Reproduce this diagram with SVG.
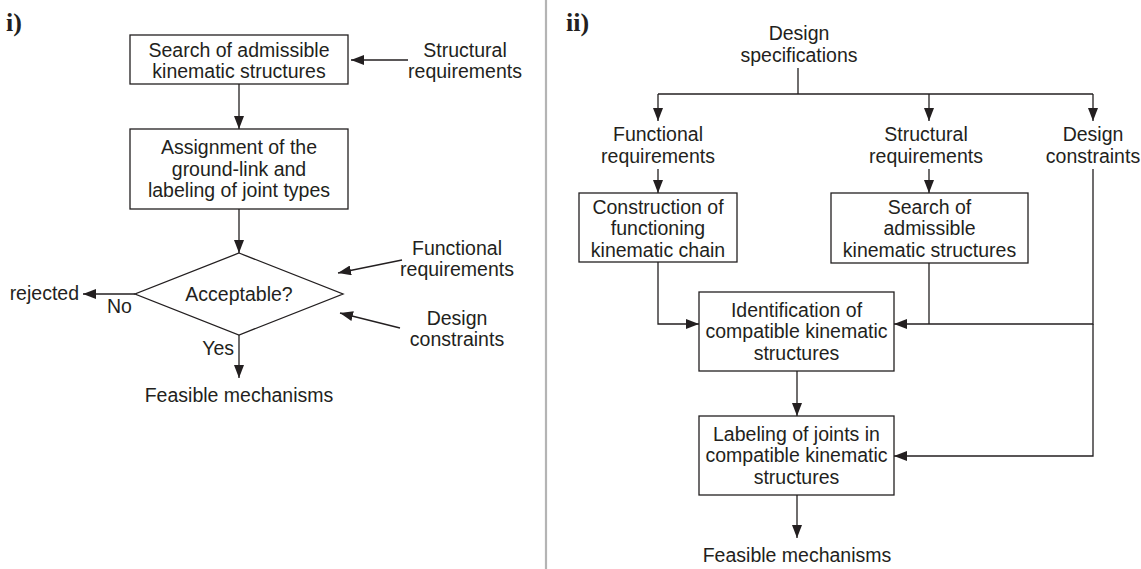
<svg xmlns="http://www.w3.org/2000/svg" width="1141" height="569" viewBox="0 0 1141 569">
  <style>
    text { font-family: "Liberation Sans", Arial, sans-serif; font-size: 19.5px; fill: #231f20; }
    .c { text-anchor: middle; }
    .e { text-anchor: end; }
    .tag { font-family: "Liberation Serif", "Times New Roman", serif; font-weight: bold; font-size: 26px; }
    .box { fill: #ffffff; stroke: #231f20; stroke-width: 1.3; }
    .ln { fill: none; stroke: #231f20; stroke-width: 1.3; }
    .arr { marker-end: url(#head); }
  </style>
  <defs>
    <marker id="head" viewBox="0 0 13 10" refX="13" refY="5" markerWidth="13" markerHeight="10" markerUnits="userSpaceOnUse" orient="auto">
      <path d="M0,0 L13,5 L0,10 z" fill="#231f20"/>
    </marker>
  </defs>
  <rect width="1141" height="569" fill="#ffffff"/>

  <!-- panel separator -->
  <line x1="546" y1="0" x2="546" y2="569" stroke="#b4b4b4" stroke-width="2.2"/>

  <text class="tag" x="6" y="31">i)</text>
  <text class="tag" x="566" y="31">ii)</text>

  <!-- ===== Panel i ===== -->
  <g id="i-search">
    <rect class="box" x="130" y="35" width="218" height="49"/>
    <text class="c" x="239" y="57">Search of admissible</text>
    <text class="c" x="239" y="78">kinematic structures</text>
  </g>
  <g id="i-assign">
    <rect class="box" x="130" y="129" width="218" height="80"/>
    <text class="c" x="239" y="154">Assignment of the</text>
    <text class="c" x="239" y="176">ground-link and</text>
    <text class="c" x="239" y="197">labeling of joint types</text>
  </g>
  <g id="i-decision">
    <polygon class="box" points="239,253 343,294 239,335 135,294"/>
    <text class="c" x="239" y="301">Acceptable?</text>
  </g>
  <g id="i-structural">
    <text class="c" x="465" y="57">Structural</text>
    <text class="c" x="465" y="78">requirements</text>
  </g>
  <g id="i-functional">
    <text class="c" x="457" y="255">Functional</text>
    <text class="c" x="457" y="276">requirements</text>
  </g>
  <g id="i-constraints">
    <text class="c" x="457" y="325">Design</text>
    <text class="c" x="457" y="346">constraints</text>
  </g>
  <g id="i-rejected">
    <text class="e" x="79" y="300">rejected</text>
  </g>
  <g id="i-feasible">
    <text class="c" x="239" y="402">Feasible mechanisms</text>
  </g>

  <g id="i-connectors">
    <line class="ln arr" x1="239" y1="84" x2="239" y2="129"/>
    <line class="ln arr" x1="239" y1="209" x2="239" y2="253"/>
    <line class="ln arr" x1="239" y1="335" x2="239" y2="378"/>
    <line class="ln arr" x1="135" y1="294" x2="83" y2="294"/>
    <line class="ln arr" x1="408" y1="60" x2="351" y2="60"/>
    <line class="ln arr" x1="402" y1="260" x2="338" y2="273"/>
    <line class="ln arr" x1="400" y1="328" x2="340" y2="313"/>
    <text x="107" y="313">No</text>
    <text class="e" x="234" y="355">Yes</text>
  </g>

  <!-- ===== Panel ii ===== -->
  <g id="ii-spec">
    <text class="c" x="799" y="40">Design</text>
    <text class="c" x="799" y="62">specifications</text>
  </g>
  <g id="ii-functional">
    <text class="c" x="658" y="141">Functional</text>
    <text class="c" x="658" y="163">requirements</text>
  </g>
  <g id="ii-structural">
    <text class="c" x="926" y="141">Structural</text>
    <text class="c" x="926" y="163">requirements</text>
  </g>
  <g id="ii-constraints">
    <text class="c" x="1093" y="141">Design</text>
    <text class="c" x="1093" y="163">constraints</text>
  </g>
  <g id="ii-construction">
    <rect class="box" x="579" y="193" width="158" height="69"/>
    <text class="c" x="658" y="213.5">Construction of</text>
    <text class="c" x="658" y="235">functioning</text>
    <text class="c" x="658" y="256.5">kinematic chain</text>
  </g>
  <g id="ii-search">
    <rect class="box" x="831" y="193" width="197" height="70"/>
    <text class="c" x="929.5" y="213.5">Search of</text>
    <text class="c" x="929.5" y="235">admissible</text>
    <text class="c" x="929.5" y="256.5">kinematic structures</text>
  </g>
  <g id="ii-identification">
    <rect class="box" x="699" y="292" width="195" height="79"/>
    <text class="c" x="796.5" y="316.5">Identification of</text>
    <text class="c" x="796.5" y="338">compatible kinematic</text>
    <text class="c" x="796.5" y="359.5">structures</text>
  </g>
  <g id="ii-labeling">
    <rect class="box" x="699" y="416" width="195" height="79"/>
    <text class="c" x="796.5" y="440.5">Labeling of joints in</text>
    <text class="c" x="796.5" y="462">compatible kinematic</text>
    <text class="c" x="796.5" y="483.5">structures</text>
  </g>
  <g id="ii-feasible">
    <text class="c" x="797" y="562">Feasible mechanisms</text>
  </g>

  <g id="ii-connectors">
    <line class="ln" x1="798" y1="68" x2="798" y2="94"/>
    <line class="ln" x1="658" y1="94" x2="1093" y2="94"/>
    <line class="ln arr" x1="658" y1="94" x2="658" y2="121"/>
    <line class="ln arr" x1="929" y1="94" x2="929" y2="121"/>
    <line class="ln arr" x1="1093" y1="94" x2="1093" y2="121"/>
    <line class="ln arr" x1="658" y1="169" x2="658" y2="193"/>
    <line class="ln arr" x1="929" y1="169" x2="929" y2="193"/>
    <polyline class="ln arr" points="658,262 658,324 699,324"/>
    <line class="ln" x1="929" y1="263" x2="929" y2="324"/>
    <polyline class="ln arr" points="1093,169 1093,324 894,324"/>
    <polyline class="ln arr" points="1093,324 1093,456 894,456"/>
    <line class="ln arr" x1="797" y1="371" x2="797" y2="416"/>
    <line class="ln arr" x1="797" y1="495" x2="797" y2="538"/>
  </g>
</svg>
